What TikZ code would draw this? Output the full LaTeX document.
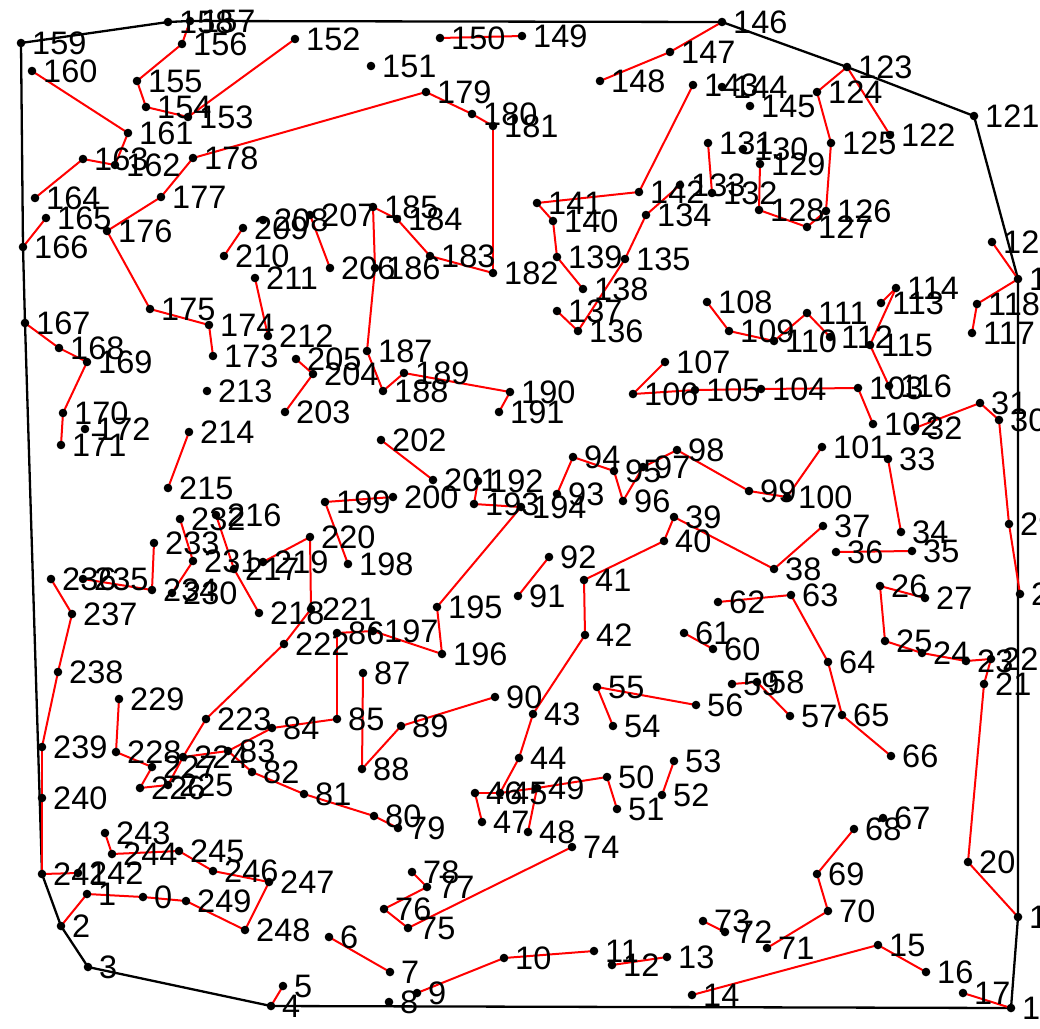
\documentclass[tikz,border=0pt]{standalone}
\usepackage{fontspec}
\setmainfont{Liberation Sans}
\begin{document}
\begin{tikzpicture}[x=1pt,y=-1pt,
  dotnode/.style={circle,fill=black,draw=none,inner sep=0pt,minimum size=8.6pt},
  lbl/.style={anchor=west,inner sep=0pt,font=\fontsize{32.5}{33}\selectfont},
  edge/.style={red,line width=2pt},
  hull/.style={black,line width=2.3pt,line join=round}]
\useasboundingbox[fill=white] (0,0) rectangle (1040,1028);
\foreach \i/\x/\y in {0/143/897,1/87/894,2/61/926,3/88/967,4/271/1006,5/283/986,6/329/937,7/390/972,8/389/1002,9/417/993,
10/504/958,11/594/951,12/612/965,13/667/957,14/692/995,15/878/945,16/926/972,17/963/993,18/1011/1008,19/1018/917,
20/968/862,21/984/684,22/991/659,23/966/661,24/922/653,25/885/641,26/880/586,27/925/598,28/1020/594,29/1009/524,
30/999/420,31/980/403,32/915/428,33/888/459,34/901/532,35/912/551,36/836/552,37/823/526,38/774/569,39/674/517,
40/664/541,41/584/580,42/585/635,43/533/714,44/519/758,45/500/793,46/475/793,47/482/822,48/528/832,49/537/788,
50/607/777,51/617/809,52/662/795,53/674/761,54/613/726,55/597/687,56/696/705,57/790/716,58/757/682,59/732/684,
60/713/649,61/684/633,62/718/602,63/791/595,64/828/662,65/842/715,66/891/756,67/883/818,68/854/829,69/817/874,
70/828/911,71/767/948,72/725/932,73/703/921,74/572/847,75/408/928,76/384/909,77/427/887,78/412/872,79/398/828,
80/374/816,81/304/794,82/252/772,83/228/751,84/272/728,85/337/719,86/337/633,87/363/673,88/362/769,89/401/726,
90/495/697,91/518/596,92/549/557,93/557/494,94/573/457,95/614/471,96/623/501,97/643/467,98/677/450,99/749/491,
100/787/497,101/822/447,102/873/424,103/858/388,104/761/389,105/695/390,106/633/394,107/665/362,108/707/302,109/729/331,
110/774/341,111/807/313,112/830/337,113/881/303,114/896/288,115/870/345,116/889/386,117/972/333,118/977/304,119/1018/279,
120/992/242,121/974/116,122/890/135,123/847/67,124/817/92,125/831/143,126/826/211,127/807/227,128/759/210,129/760/164,
130/743/149,131/708/143,132/712/193,133/680/185,134/646/215,135/625/259,136/578/331,137/557/311,138/583/289,139/557/257,
140/553/221,141/537/203,142/639/192,143/693/85,144/722/87,145/750/106,146/722/22,147/670/52,148/600/81,149/522/36,
150/440/38,151/371/66,152/295/39,153/188/117,154/146/107,155/137/81,156/182/44,157/190/21,158/168/22,159/21/43,
160/32/71,161/128/133,162/115/165,163/83/159,164/35/198,165/46/218,166/23/247,167/25/323,168/59/348,169/87/362,
170/63/413,171/61/445,172/85/429,173/213/356,174/209/325,175/150/309,176/107/231,177/161/197,178/193/158,179/426/92,
180/472/114,181/493/126,182/493/273,183/430/256,184/397/219,185/373/207,186/375/268,187/367/351,188/383/391,189/404/373,
190/510/392,191/499/412,192/478/481,193/474/504,194/521/507,195/437/607,196/442/654,197/373/631,198/348/564,199/325/502,
200/393/497,201/433/480,202/381/440,203/285/412,204/313/374,205/296/359,206/330/268,207/310/215,208/263/220,209/243/228,
210/224/256,211/255/278,212/268/336,213/207/391,214/189/432,215/168/488,216/216/515,217/234/569,218/259/613,219/263/562,
220/310/537,221/311/609,222/284/644,223/206/719,224/183/757,225/168/785,226/140/788,227/152/767,228/116/752,229/119/699,
230/172/593,231/193/561,232/180/519,233/154/543,234/152/590,235/83/579,236/51/579,237/72/614,238/58/672,239/42/747,
240/42/798,241/42/874,242/78/873,243/105/833,244/112/854,245/179/851,246/213/871,247/269/882,248/245/930,249/186/901}
  {\coordinate (p\i) at (\x,\y);}
% convex hull
\draw[hull] (p159) -- (p166) -- (p167) -- (p241) -- (p2) -- (p3) -- (p4) -- (p18) -- (p19) -- (p119) -- (p121) -- (p123) -- (p146) -- (p157) -- (p158) -- cycle;
% red edges
\foreach \a/\b in {0/1,1/2,0/249,249/248,248/247,247/246,246/245,245/244,244/243,241/242,240/241,239/240,238/239,237/238,236/237,
234/235,233/234,232/231,231/230,216/217,217/218,219/220,220/221,221/222,222/223,223/224,224/225,225/226,226/227,227/228,228/229,
224/83,83/84,84/85,85/86,86/197,197/196,196/195,195/194,194/193,193/192,83/82,82/81,81/80,80/79,199/200,199/198,202/201,
4/5,6/7,9/10,10/11,12/13,14/15,15/16,17/18,19/20,20/21,21/22,22/23,23/24,24/25,25/26,26/27,28/29,29/30,30/31,31/32,33/34,
35/36,37/38,38/39,39/40,40/41,41/42,42/43,43/44,44/45,45/46,46/47,45/49,49/48,49/50,50/51,52/53,54/55,55/56,57/58,58/59,
60/61,62/63,63/64,64/65,65/66,68/69,69/70,70/71,72/73,74/75,75/76,76/77,77/78,87/88,88/89,89/90,91/92,93/94,94/95,95/96,
96/97,97/98,98/99,99/100,100/101,102/103,103/104,104/105,105/106,106/107,108/109,109/110,110/111,111/112,113/114,114/115,
115/116,117/118,118/119,119/120,122/123,123/124,124/125,125/126,126/127,127/128,128/129,131/132,133/134,134/135,135/136,
136/137,138/139,139/140,140/141,141/142,142/143,146/147,147/148,149/150,152/153,153/154,154/155,155/156,156/157,160/161,
161/162,162/163,163/164,165/166,167/168,168/169,169/170,170/171,173/174,174/175,175/176,176/177,177/178,178/179,179/180,
180/181,181/182,182/183,183/184,184/185,185/186,186/187,187/188,188/189,189/190,190/191,203/204,204/205,206/207,209/210,
211/212,214/215}
  {\draw[edge] (p\a) -- (p\b);}
% dots and labels
\foreach \i in {0,...,249}{
  \node[dotnode] (d\i) at (p\i) {};
  \node[lbl] (l\i) at ([xshift=11pt]p\i) {\i};
}
\end{tikzpicture}
\end{document}
